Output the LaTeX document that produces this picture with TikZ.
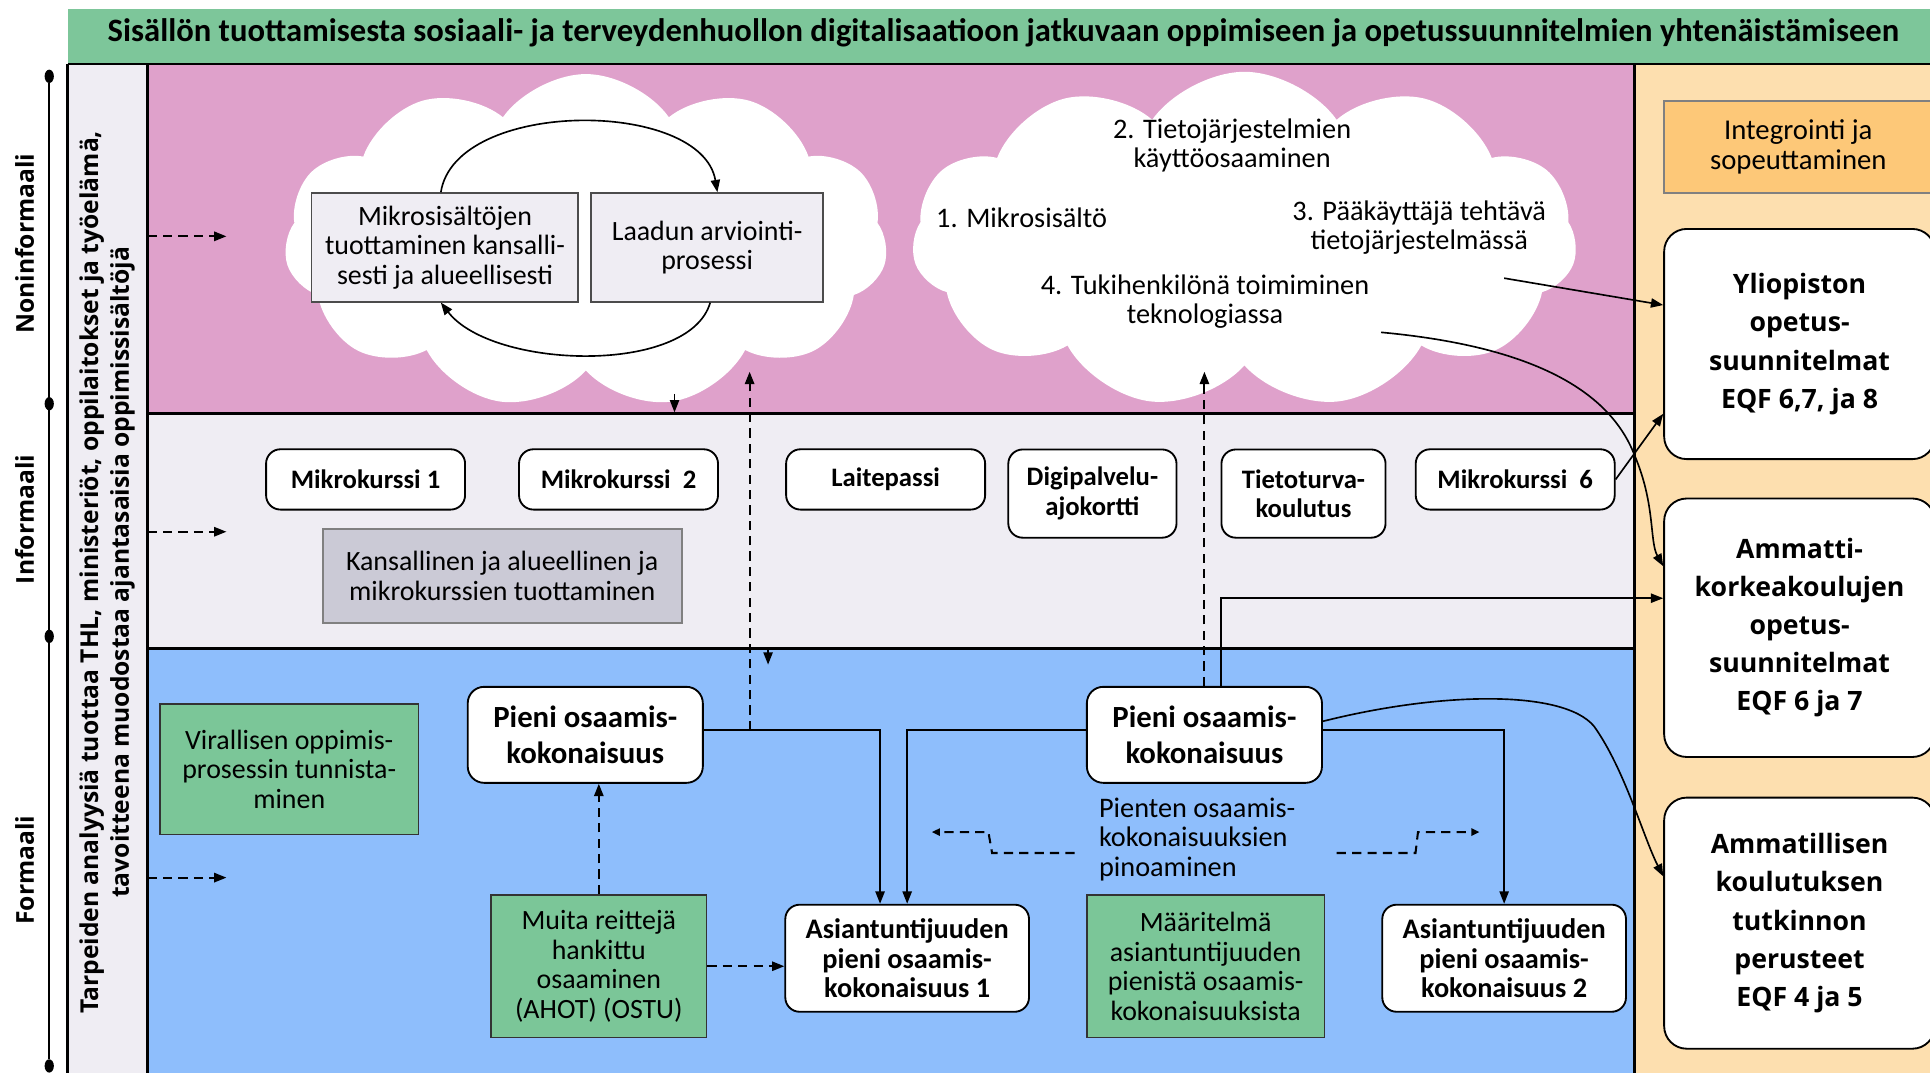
\documentclass[tikz,border=0pt]{standalone}
\usepackage{fontspec}
\setmainfont{Carlito}
\newfontfamily\widefont{Open Sans}
\usetikzlibrary{shapes.symbols,shapes.geometric,arrows.meta}
\definecolor{bannergreen}{RGB}{125,198,154}
\definecolor{nonpink}{RGB}{223,161,203}
\definecolor{infogray}{RGB}{239,237,243}
\definecolor{formblue}{RGB}{142,190,252}
\definecolor{peach}{RGB}{253,223,175}
\definecolor{orangebox}{RGB}{253,200,120}
\definecolor{graybox}{RGB}{203,202,214}
\definecolor{greenbox}{RGB}{123,198,152}
\tikzset{
	rbox/.style 2 args={draw,fill=white,rounded corners=7pt,line width=0.9pt,align=center,font=\bfseries\fontsize{13}{14.4}\selectfont,minimum width=#1,minimum height=#2,inner sep=1pt},
	pbox/.style 2 args={rbox={#1}{#2},rounded corners=8pt,font=\bfseries\fontsize{15}{18}\selectfont},
	abox/.style 2 args={rbox={#1}{#2},font=\bfseries\fontsize{13.8}{14.4}\selectfont},
	ebox/.style 2 args={rbox={#1}{#2},rounded corners=11pt,font=\widefont\bfseries\fontsize{13}{18.6}\selectfont},
	sbox/.style 2 args={draw=#1,fill=#2,line width=0.8pt,align=center,font=\fontsize{13.6}{14.4}\selectfont,inner sep=1pt},
	ctext/.style={align=center,font=\fontsize{13.8}{14.4}\selectfont},
	side/.style={rotate=90,align=center,font=\widefont\bfseries\fontsize{12}{15}\selectfont},
	dot/.style={ellipse,fill,inner sep=0pt,minimum width=4.5pt,minimum height=6.5pt},
	band/.style={line width=1.2pt},
	arr/.style={-{Triangle[length=6pt,width=4.5pt]},line width=0.8pt},
	arrs/.style={-{Triangle[length=4pt,width=3.5pt]},line width=0.8pt},
	dline/.style={dash pattern=on 4.5pt off 3pt,line width=1pt}
}

\begin{document}
\begin{tikzpicture}[x=0.6pt,y=-0.6pt]
	\useasboundingbox (0,0) rectangle (1568,872);
	\clip (0,0) rectangle (1568,872);
	\fill[bannergreen] (55,7) rectangle (1568,52);
	\fill[infogray] (55,52) rectangle (120,872);
	\fill[nonpink] (120,52) rectangle (1328,336);
	\fill[infogray] (120,336) rectangle (1328,527);
	\fill[formblue] (120,527) rectangle (1328,872);
	\fill[peach] (1328,52) rectangle (1568,872);
	\draw[band] (55,52) -- (1568,52);
	\draw[band] (55,52) -- (55,872);
	\draw[band] (120,52) -- (120,872);
	\draw[band] (120,336) -- (1328,336);
	\draw[band] (120,527) -- (1328,527);
	\draw[band] (1328,52) -- (1328,872);

	\node[font=\bfseries\fontsize{15.9}{17}\selectfont] (otsikko) at (815,27) {Sisällön tuottamisesta sosiaali- ja terveydenhuollon digitalisaatioon jatkuvaan oppimiseen ja opetussuunnitelmien yhtenäistämiseen};

	\node[dot] (d1) at (40,62) {};
	\node[dot] (d2) at (40,328) {};
	\node[dot] (d3) at (40,517) {};
	\node[dot] (d4) at (40,866) {};
	\draw[line width=1pt] (d1) -- (d4);
	\node[side] (lnon) at (20,198) {Noninformaali};
	\node[side] (linf) at (20,422) {Informaali};
	\node[side] (lfor) at (20,707) {Formaali};
	\node[side,font=\widefont\bfseries\fontsize{12}{15}\selectfont] (tarve) at (87,465) {Tarpeiden analyysiä tuottaa THL, ministeriöt, oppilaitokset ja työelämä,\\tavoitteena muodostaa ajantasaisia oppimissisältöjä};

	\node[cloud,cloud puffs=11,cloud puff arc=110,aspect=1.8,fill=white,minimum width=294pt,minimum height=163pt] (pilvi1) at (476,196) {};
	\node[cloud,cloud puffs=11,cloud puff arc=110,aspect=2,fill=white,minimum width=324pt,minimum height=164pt] (pilvi2) at (1011,195) {};

	\node[sbox={black!70}{infogray},minimum width=130pt,minimum height=53pt] (mikro) at (361.5,201) {Mikrosisältöjen\\tuottaminen kansalli-\\sesti ja alueellisesti};
	\node[sbox={black!70}{infogray},minimum width=113pt,minimum height=53pt] (laatu) at (574.5,201) {Laadun arviointi-\\prosessi};
	\node[ctext] (t2) at (1001,118) {2. Tietojärjestelmien\\käyttöosaaminen};
	\node[ctext] (t1) at (830,177) {1. Mikrosisältö};
	\node[ctext] (t3) at (1153,185) {3. Pääkäyttäjä tehtävä\\tietojärjestelmässä};
	\node[ctext] (t4) at (979,245) {4. Tukihenkilönä toimiminen\\teknologiassa};
	\coordinate (c3) at (1222,226);
	\coordinate (c4) at (1122,270);

	\node[rbox={97pt}{29.4pt}] (mk1) at (297,389.5) {Mikrokurssi 1};
	\node[rbox={97pt}{29.4pt}] (mk2) at (502.5,389.5) {Mikrokurssi\ \ 2};
	\node[rbox={97pt}{29.4pt}] (laite) at (719.5,389.5) {Laitepassi};
	\node[rbox={82pt}{43pt}] (digi) at (887.5,401) {Digipalvelu-\\ajokortti};
	\node[rbox={80pt}{43pt}] (tieto) at (1059,401) {Tietoturva-\\koulutus};
	\node[rbox={97pt}{29.4pt}] (mk6) at (1231,389.5) {Mikrokurssi\ \ 6};
	\node[sbox={black!50}{graybox},minimum width=175pt,minimum height=45.6pt] (kans) at (408,468) {Kansallinen ja alueellinen ja\\mikrokurssien tuottaminen};

	\node[sbox={black!80}{greenbox},minimum width=126pt,minimum height=63.6pt] (viral) at (235,625) {Virallisen oppimis-\\prosessin tunnista-\\minen};
	\node[pbox={114.6pt}{46.8pt}] (pieni1) at (475.5,597) {Pieni osaamis-\\kokonaisuus};
	\node[pbox={114.6pt}{46.8pt}] (pieni2) at (978.5,597) {Pieni osaamis-\\kokonaisuus};
	\node[sbox={black!80}{greenbox},minimum width=105pt,minimum height=69.6pt] (muita) at (486.5,785) {Muita reittejä\\hankittu\\osaaminen\\(AHOT) (OSTU)};
	\node[abox={118.8pt}{52.2pt}] (asi1) at (737,778.5) {Asiantuntijuuden\\pieni osaamis-\\kokonaisuus 1};
	\node[sbox={black!80}{greenbox},minimum width=115.8pt,minimum height=69.6pt] (maar) at (979.5,785) {Määritelmä\\asiantuntijuuden\\pienistä osaamis-\\kokonaisuuksista};
	\node[abox={118.8pt}{52.2pt}] (asi2) at (1222,778.5) {Asiantuntijuuden\\pieni osaamis-\\kokonaisuus 2};
	\node[ctext,align=left,anchor=west] (pino) at (887,682) {Pienten osaamis-\\kokonaisuuksien\\pinoaminen};

	\node[sbox={black!50}{orangebox},minimum width=130.8pt,minimum height=45pt,font=\fontsize{14}{14.4}\selectfont] (integ) at (1461,119.5) {Integrointi ja\\sopeuttaminen};
	\node[ebox={132pt}{112.2pt}] (ylio) at (1462,279.5) {Yliopiston\\opetus-\\suunnitelmat\\EQF 6,7, ja 8};
	\node[ebox={132pt}{126pt}] (amk) at (1462,510) {Ammatti-\\korkeakoulujen\\opetus-\\suunnitelmat\\EQF 6 ja 7};
	\node[ebox={132pt}{122.4pt}] (amm) at (1462,750) {Ammatillisen\\koulutuksen\\tutkinnon\\perusteet\\EQF 4 ja 5};

	\coordinate (s1) at (120,192);
	\coordinate (e1) at (184,192);
	\coordinate (s2) at (120,432);
	\coordinate (e2) at (184,432);
	\coordinate (s3) at (120,713);
	\coordinate (e3) at (184,713);
	\draw[arr,dline] (s1) -- (e1);
	\draw[arr,dline] (s2) -- (e2);
	\draw[arr,dline] (s3) -- (e3);

	\draw[arr] ([xshift=-2pt]mikro.north) .. controls (370,80) and (570,80) .. ([xshift=5pt]laatu.north);
	\draw[arr] ([xshift=1.5pt]laatu.south) .. controls (560,305) and (400,300) .. ([xshift=-2pt]mikro.south);

	\coordinate (k1) at (548,320);
	\coordinate (k2) at (548,335);
	\coordinate (k3) at (624,527);
	\coordinate (k4) at (624,540);
	\draw[arr] (k1) -- (k2);
	\draw[arr] (k3) -- (k4);
	\coordinate (v1a) at (609,593);
	\coordinate (v1b) at (609,302);
	\coordinate (v2b) at (978.5,302);
	\draw[arr,dline] (v1a) -- (v1b);
	\draw[arr,dline] (pieni2.north) -- (v2b);

	\draw[arr] (c3) -- ([yshift=19pt]ylio.west);
	\draw[arr] (mk6.east) -- ([yshift=-34pt]ylio.west);
	\draw[arr] (c4) .. controls (1230,280) and (1305,310) .. (1328,370) .. controls (1345,410) and (1340,440) .. ([yshift=30pt]amk.west);
	\draw[arr] ([xshift=8.1pt]pieni2.north) |- ([yshift=14.4pt]amk.west);
	\draw[arr] ([yshift=6.6pt]pieni2.east) .. controls (1170,562) and (1270,560) .. (1295,590) .. controls (1320,625) and (1335,680) .. ([yshift=22.8pt]amm.west);

	\draw[arr] ([yshift=2.4pt]pieni1.east) -| ([xshift=-13.2pt]asi1.north);
	\draw[arr] ([yshift=2.4pt]pieni2.west) -| (asi1.north);
	\draw[arr] ([yshift=2.4pt]pieni2.east) -| (asi2.north);
	\draw[arr,dline] (muita.north) -- (muita.north |- pieni1.south);
	\draw[arr,dline] (muita.east) -- (muita.east -| asi1.west);

	\coordinate (p1) at (873,693);
	\coordinate (p2) at (757,676);
	\coordinate (p3) at (1086,693);
	\coordinate (p4) at (1202,676);
	\draw[arrs,dline] (p1) -- (806,693) -- (803,676) -- (p2);
	\draw[arrs,dline] (p3) -- (1150,693) -- (1152,676) -- (p4);
\end{tikzpicture}
\end{document}
